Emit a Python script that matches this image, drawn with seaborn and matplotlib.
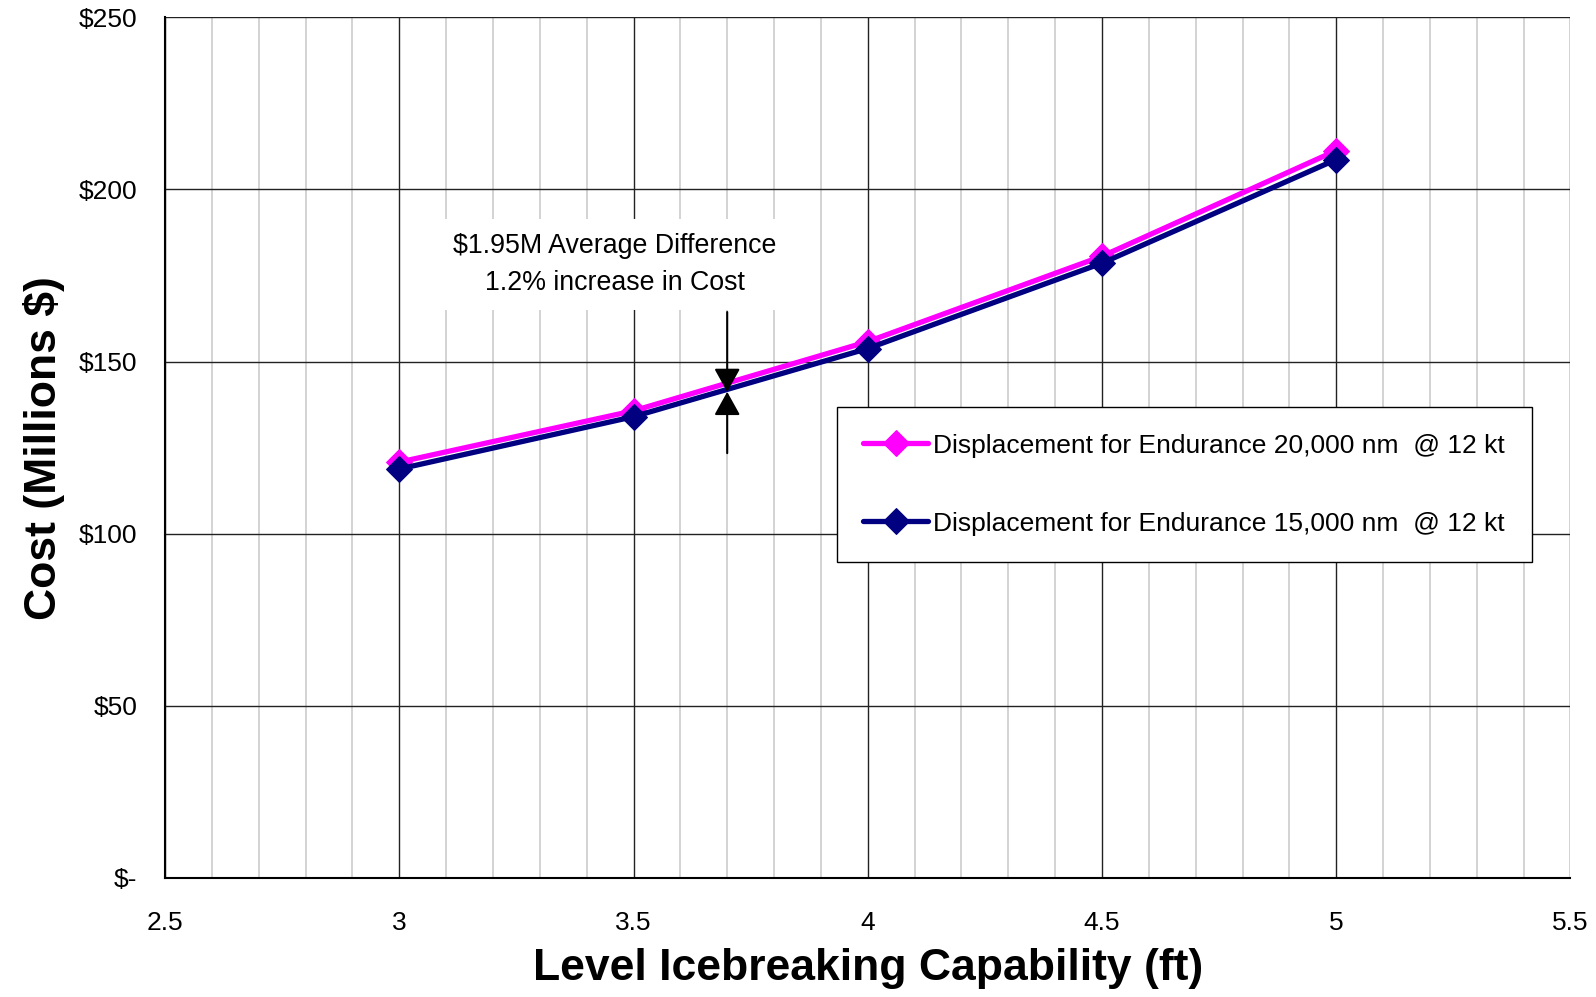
import matplotlib
matplotlib.use("Agg")
import matplotlib.pyplot as plt
import seaborn as sns
import pandas as pd

# capability (ft) vs cost (millions $)
capability = [3.0, 3.5, 4.0, 4.5, 5.0]
cost_20k = [120.8, 135.7, 155.8, 180.6, 211.3]
cost_15k = [118.8, 134.0, 153.8, 178.6, 208.7]
label_20k = "Displacement for Endurance 20,000 nm  @ 12 kt"
label_15k = "Displacement for Endurance 15,000 nm  @ 12 kt"
y_ticks = [0, 50, 100, 150, 200, 250]
y_tick_labels = ["$-", "$50", "$100", "$150", "$200", "$250"]
x_ticks = [2.5, 3, 3.5, 4, 4.5, 5, 5.5]
x_tick_labels = ["2.5", "3", "3.5", "4", "4.5", "5", "5.5"]
note_x = 3.7
note_top, note_mid, note_bottom = 164.4, 141.2, 123.4
note_text = "$1.95M Average Difference\n1.2% increase in Cost"

df_20k = pd.DataFrame({"cap": capability, "cost": cost_20k})
df_15k = pd.DataFrame({"cap": capability, "cost": cost_15k})

sns.set_style("white")
plt.rcParams["font.family"] = ["Liberation Sans", "DejaVu Sans"]
plt.rcParams["text.color"] = "black"
plt.rcParams["axes.labelcolor"] = "black"
plt.rcParams["xtick.color"] = "black"
plt.rcParams["ytick.color"] = "black"

fig = plt.figure(figsize=(15.96, 9.97), dpi=100)
ax = fig.add_axes([0.1034, 0.1194, 0.8806, 0.8632])

sns.lineplot(data=df_20k, x="cap", y="cost", ax=ax, color="#FF00FF", lw=3.8,
             marker="D", markersize=13, markeredgecolor="#FF00FF", label=label_20k, zorder=4)
sns.lineplot(data=df_15k, x="cap", y="cost", ax=ax, color="#000080", lw=3.8,
             marker="D", markersize=13, markeredgecolor="#000080", label=label_15k, zorder=5)

ax.set_xlim(2.5, 5.5)
ax.set_ylim(0, 250)
ax.set_xticks(x_ticks)
ax.set_xticklabels(x_tick_labels)
ax.set_yticks(y_ticks)
ax.set_yticklabels(y_tick_labels)
ax.set_xticks([2.5 + 0.1 * i for i in range(31)], minor=True)

ax.grid(which="major", axis="both", color="#222222", lw=1.0)
ax.grid(which="minor", axis="x", color="#cccccc", lw=1.2)
ax.set_axisbelow(True)

for side in ["top", "right"]:
    ax.spines[side].set_visible(False)
for side in ["left", "bottom"]:
    ax.spines[side].set_color("black")
    ax.spines[side].set_linewidth(1.5)

ax.tick_params(axis="both", which="major", direction="out", length=8, width=1,
               labelsize=19, color="#333333")
ax.tick_params(axis="y", which="major", pad=12)
ax.tick_params(axis="x", which="major", pad=16)
ax.tick_params(axis="x", which="minor", length=0)

ax.set_xlabel("Level Icebreaking Capability (ft)", fontsize=32, fontweight="bold", labelpad=9)
ax.set_ylabel("Cost (Millions $)", fontsize=32, fontweight="bold", labelpad=10)

# annotation
ax.text(3.46, 178.3, note_text, ha="center", va="center", fontsize=19.3, linespacing=1.55,
        bbox=dict(facecolor="white", edgecolor="none", pad=10), zorder=6)
arrow = dict(arrowstyle="-|>,head_length=0.9,head_width=0.5", color="black", lw=1.5,
             mutation_scale=16, shrinkA=0, shrinkB=0)
ax.annotate("", xy=(note_x, note_mid), xytext=(note_x, note_top), arrowprops=arrow, zorder=7)
ax.annotate("", xy=(note_x, note_mid), xytext=(note_x, note_bottom), arrowprops=arrow, zorder=7)

leg = ax.legend(loc="upper left", bbox_to_anchor=(0.4782, 0.547), fontsize=19,
                frameon=True, fancybox=False, framealpha=1, edgecolor="black",
                labelspacing=2.05, borderpad=1.0, handlelength=2.45, handletextpad=0.2,
                borderaxespad=0)
leg.get_frame().set_linewidth(1.0)

fig.savefig("out.png", dpi=100)
